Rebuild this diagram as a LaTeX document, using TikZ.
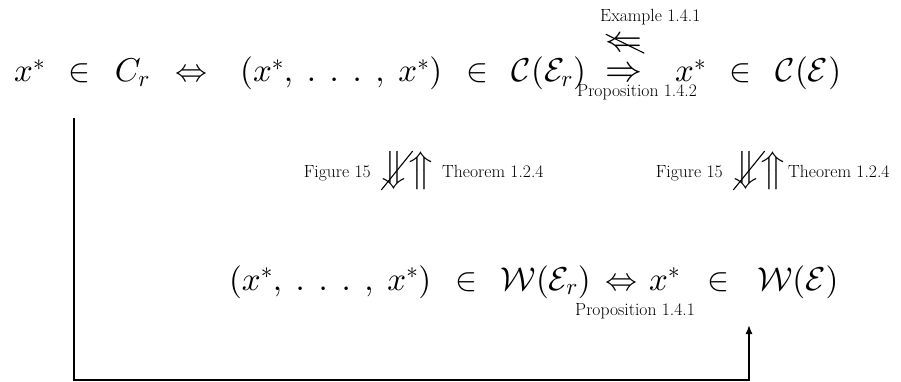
\documentclass[tikz,border=0pt]{standalone}
\usepackage{amsmath}
\usetikzlibrary{arrows.meta}
% scalable math fonts
\DeclareFontShape{OML}{cmm}{m}{it}{<-> cmmi10}{}
\DeclareFontShape{OMS}{cmsy}{m}{n}{<-> cmsy10}{}
\DeclareFontShape{OMX}{cmex}{m}{n}{<-> cmex10}{}
\DeclareFontShape{OT1}{cmr}{m}{n}{<-> cmr10}{}

\begin{document}
\begin{tikzpicture}[x=1pt, y=1pt, >={Latex[length=9pt,width=7pt]},
  eq/.style={inner sep=0pt, anchor=base west, font=\fontsize{33}{40}\selectfont,
    execute at begin node={\thickmuskip=13mu\thinmuskip=7.5mu}},
  sym/.style={inner sep=0pt, anchor=base, font=\fontsize{32}{38}\selectfont},
  bigsym/.style={sym, font=\fontsize{37}{44}\selectfont},
  ref/.style={inner sep=0pt, anchor=base west, font=\fontsize{17.6}{20}\selectfont},
  strike/.style={line width=1.1pt}]
  \useasboundingbox (0,0) rectangle (901,381);
  % top row
  \node[eq]      (cr)   at (14,299)    {$x^*\in C_r$};
  \node[sym]     (iffA) at (191,299)   {$\Leftrightarrow$};
  \node[eq]      (cer)  at (240,299)   {$(x^*,\ldots,x^*)\in\mathcal{C}(\mathcal{E}_r)$};
  \node[bigsym]  (imp)  at (623.5,299) {$\Rightarrow$};
  \node[bigsym]  (nimp) at (623.5,329) {$\Leftarrow$};
  \node[eq]      (ce)   at (675,299)   {$x^*\in\mathcal{C}(\mathcal{E})$};
  \node[ref]     (ex)   at (600,359)   {Example 1.4.1};
  \node[ref]     (propB) at (577,284)  {Proposition 1.4.2};
  \draw[strike] ([shift={(1,4)}]nimp.north west) -- ([shift={(2,-1)}]nimp.south east);
  % middle arrows
  \node[sym] (dnA) at (394,202.5) {$\big\Downarrow$};
  \node[sym] (upA) at (421,202.5) {$\big\Uparrow$};
  \node[ref, anchor=base east] (figA) at (371,204) {Figure 15};
  \node[ref] (thmA) at (442,204) {Theorem 1.2.4};
  \draw[strike] (dnA.south west) -- ([xshift=6pt]dnA.north east);
  \node[sym] (dnB) at (746,202.5) {$\big\Downarrow$};
  \node[sym] (upB) at (773,202.5) {$\big\Uparrow$};
  \node[ref, anchor=base east] (figB) at (723,204) {Figure 15};
  \node[ref] (thmB) at (788,204) {Theorem 1.2.4};
  \draw[strike] (dnB.south west) -- ([xshift=6pt]dnB.north east);
  % bottom row
  \node[eq, anchor=base east] (wer) at (591,91) {$(x^*,\ldots,x^*)\in\mathcal{W}(\mathcal{E}_r)$};
  \node[sym] (iffB) at (621,91)  {$\Leftrightarrow$};
  \node[eq, execute at begin node={\thickmuskip=15mu}] (we) at (649,91) {$x^*\in\mathcal{W}(\mathcal{E})$};
  \node[ref] (propA) at (575,66) {Proposition 1.4.1};
  % connector
  \coordinate (fromCr) at (74,263);
  \coordinate (toW) at (749,56);
  \coordinate (low) at (0,1);
  \draw[line width=1.5pt, ->] (fromCr) -- (fromCr |- low) -- (toW |- low) -- (toW);
\end{tikzpicture}
\end{document}
